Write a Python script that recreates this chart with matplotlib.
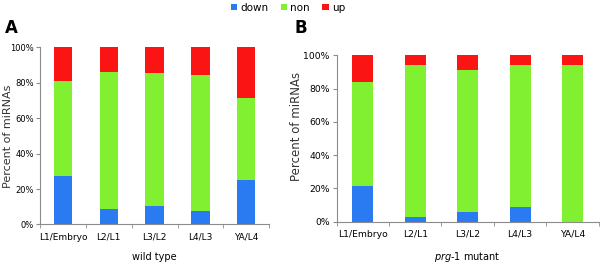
import matplotlib.pyplot as plt
import numpy as np

stages = ["L1/Embryo", "L2/L1", "L3/L2", "L4/L3", "YA/L4"]

# wild type, percent of miRNAs
wt_down = [27.3, 9.0, 10.7, 7.7, 25.0]
wt_non = [53.8, 77.0, 74.6, 76.7, 46.3]
wt_up = [18.9, 14.0, 14.7, 15.6, 28.7]

# prg-1 mutant
mut_down = [21.5, 2.8, 5.6, 9.0, 0.0]
mut_non = [62.6, 91.4, 85.4, 85.3, 94.0]
mut_up = [15.9, 5.8, 9.0, 5.7, 6.0]

colors = {"down": "#2a7af2", "non": "#80f030", "up": "#fa1414"}
spine_col = "#8c8c8c"


def stacked(ax, down, non, up, tick_size):
    x = np.arange(len(stages))
    d = np.array(down) / 100
    n = np.array(non) / 100
    u = np.array(up) / 100
    ax.bar(x, d, 0.4, color=colors["down"], label="down")
    ax.bar(x, n, 0.4, bottom=d, color=colors["non"], label="non")
    ax.bar(x, u, 0.4, bottom=d + n, color=colors["up"], label="up")
    ax.set_xlim(-0.5, len(stages) - 0.5)
    ax.set_ylim(0, 1)
    ax.set_yticks(np.linspace(0, 1, 6))
    ax.set_yticklabels(["{:.0f}%".format(v * 100) for v in np.linspace(0, 1, 6)])
    ax.set_xticks(x)
    ax.set_xticklabels(stages)
    ax.set_xticks(np.arange(-0.5, len(stages)), minor=True)
    ax.tick_params(axis="x", which="major", length=0, labelsize=tick_size, pad=6)
    ax.tick_params(axis="x", which="minor", length=3, color=spine_col)
    ax.tick_params(axis="y", length=3, color=spine_col, labelsize=tick_size, pad=2)
    for s in ["top", "right"]:
        ax.spines[s].set_visible(False)
    for s in ["left", "bottom"]:
        ax.spines[s].set_color(spine_col)


fig = plt.figure(figsize=(6, 2.65), dpi=100)

axA = fig.add_axes([0.0667, 0.153, 0.382, 0.668])
stacked(axA, wt_down, wt_non, wt_up, 6.5)
axA.tick_params(axis="y", labelsize=6, pad=1.5)
for t in axA.get_xticklabels() + axA.get_yticklabels():
    t.set_fontfamily(["Liberation Sans Narrow", "DejaVu Sans"])
axA.set_xlabel("wild type", fontsize=7, labelpad=7)
axA.set_ylabel("Percent of miRNAs", fontsize=8, color="#333333")
axA.yaxis.set_label_coords(-0.12, 0.5)

axB = fig.add_axes([0.561, 0.164, 0.437, 0.627])
stacked(axB, mut_down, mut_non, mut_up, 6.7)
axB.set_xlabel(r"$\it{prg}$-$\it{1}$ mutant", fontsize=7, labelpad=8)
axB.set_ylabel("Percent of miRNAs", fontsize=8.5, color="#333333")
axB.yaxis.set_label_coords(-0.127, 0.57)

fig.text(0.008, 0.875, "A", fontsize=12, fontweight="bold")
fig.text(0.49, 0.875, "B", fontsize=12, fontweight="bold")

handles, labels = axA.get_legend_handles_labels()
fig.legend(handles, labels, loc="upper center", bbox_to_anchor=(0.48, 1.025), ncol=3,
           frameon=False, fontsize=7.5, handlelength=0.6, handleheight=0.6,
           handletextpad=0.3, columnspacing=1.2)

fig.savefig("out.png", dpi=100)
